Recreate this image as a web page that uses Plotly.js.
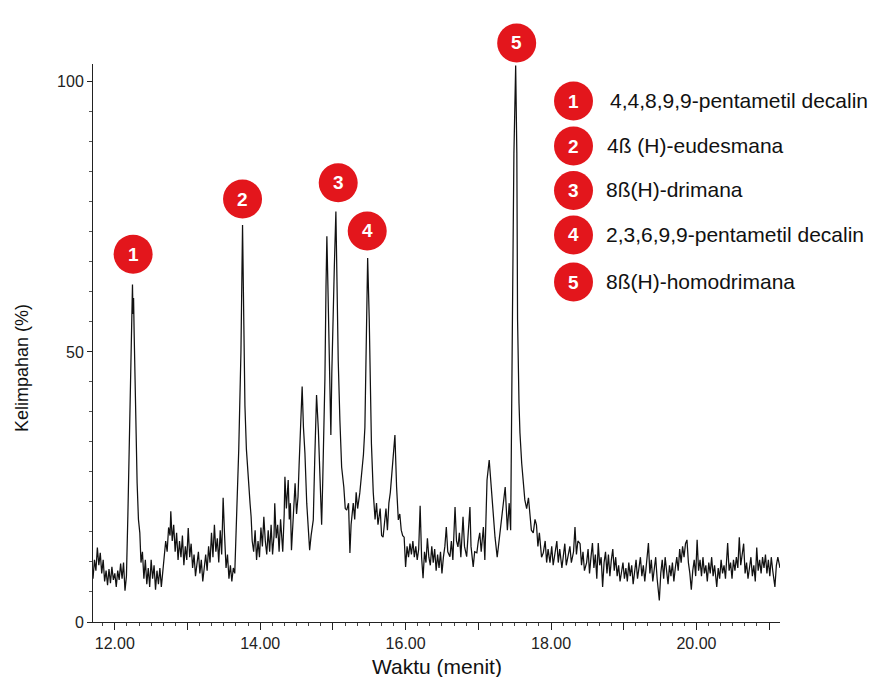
<!DOCTYPE html>
<html>
<head>
<meta charset="utf-8">
<script src="https://cdn.plot.ly/plotly-3.0.1.min.js"></script>
<style>html,body{margin:0;padding:0;background:#fff;}#chart{width:873px;height:677px;}</style>
</head>
<body>
<div id="chart"></div>
<script>
// Retention time (minutes) and relative abundance (%)
const retentionTime = [
11.70,11.72,11.74,11.76,11.78,11.80,11.82,11.84,11.86,11.88,
11.90,11.92,11.94,11.96,11.98,12.00,12.02,12.04,12.06,12.08,
12.10,12.12,12.14,12.16,12.18,12.20,12.22,12.235,12.243,12.25,
12.258,12.266,12.285,12.307,12.325,12.344,12.36,12.38,12.40,12.42,
12.44,12.46,12.48,12.50,12.52,12.54,12.56,12.58,12.60,12.62,
12.64,12.66,12.68,12.70,12.72,12.74,12.76,12.77,12.79,12.81,
12.83,12.85,12.87,12.89,12.91,12.93,12.95,12.97,12.99,13.01,
13.03,13.05,13.07,13.09,13.11,13.13,13.15,13.17,13.19,13.21,
13.23,13.25,13.27,13.29,13.31,13.33,13.35,13.37,13.39,13.41,
13.43,13.45,13.47,13.49,13.51,13.53,13.55,13.57,13.59,13.61,
13.63,13.65,13.675,13.705,13.735,13.757,13.775,13.79,13.81,13.835,
13.86,13.875,13.89,13.91,13.93,13.95,13.97,13.99,14.01,14.03,
14.05,14.07,14.09,14.11,14.13,14.15,14.17,14.19,14.20,14.22,
14.24,14.26,14.28,14.30,14.31,14.33,14.34,14.36,14.385,14.40,
14.415,14.43,14.45,14.48,14.50,14.52,14.535,14.55,14.577,14.595,
14.615,14.64,14.66,14.68,14.70,14.73,14.75,14.775,14.80,14.82,
14.845,14.86,14.876,14.89,14.905,14.917,14.93,14.95,14.972,14.985,
15.00,15.02,15.041,15.055,15.073,15.096,15.12,15.15,15.17,15.19,
15.215,15.234,15.25,15.28,15.30,15.32,15.34,15.37,15.40,15.42,
15.44,15.46,15.478,15.50,15.515,15.53,15.555,15.58,15.60,15.62,
15.65,15.67,15.69,15.71,15.73,15.75,15.77,15.79,15.82,15.84,
15.853,15.876,15.90,15.92,15.94,15.96,15.98,16.00,16.02,16.04,
16.06,16.08,16.10,16.12,16.14,16.16,16.18,16.20,16.22,16.24,
16.26,16.28,16.30,16.32,16.34,16.36,16.38,16.40,16.42,16.44,
16.46,16.48,16.50,16.52,16.54,16.56,16.58,16.61,16.63,16.65,
16.68,16.70,16.72,16.74,16.76,16.79,16.81,16.84,16.86,16.885,
16.90,16.93,16.95,16.98,17.00,17.02,17.04,17.07,17.09,17.11,
17.12,17.15,17.165,17.18,17.20,17.23,17.26,17.28,17.30,17.32,
17.34,17.37,17.40,17.425,17.445,17.46,17.47,17.49,17.514,17.53,
17.54,17.56,17.573,17.597,17.62,17.64,17.665,17.69,17.71,17.73,
17.756,17.78,17.80,17.82,17.84,17.87,17.894,17.92,17.94,17.96,
17.986,18.01,18.03,18.06,18.08,18.10,18.12,18.15,18.17,18.19,
18.21,18.24,18.26,18.28,18.31,18.33,18.35,18.37,18.40,18.42,
18.44,18.46,18.49,18.51,18.53,18.55,18.57,18.59,18.61,18.63,
18.65,18.67,18.69,18.71,18.73,18.75,18.77,18.79,18.81,18.83,
18.85,18.87,18.89,18.91,18.93,18.95,18.97,18.99,19.01,19.03,
19.05,19.07,19.09,19.11,19.13,19.15,19.17,19.19,19.21,19.23,
19.25,19.27,19.29,19.31,19.34,19.36,19.38,19.40,19.42,19.44,
19.46,19.49,19.51,19.53,19.55,19.57,19.59,19.61,19.63,19.65,
19.67,19.69,19.71,19.73,19.75,19.77,19.79,19.81,19.83,19.85,
19.87,19.89,19.91,19.93,19.95,19.97,19.99,20.01,20.03,20.05,
20.07,20.09,20.11,20.13,20.15,20.17,20.19,20.21,20.23,20.25,
20.28,20.30,20.32,20.34,20.36,20.38,20.40,20.43,20.45,20.47,
20.49,20.51,20.53,20.55,20.57,20.59,20.61,20.63,20.65,20.67,
20.69,20.71,20.73,20.75,20.77,20.79,20.81,20.83,20.85,20.87,
20.89,20.91,20.93,20.95,20.97,20.99,21.01,21.03,21.05,21.08,
21.10,21.12,21.15
];
const abundance = [
8.0,11.5,9.5,13.8,10.5,12.8,9.0,11.5,7.5,9.5,
6.8,9.8,7.2,10.2,7.8,9.0,6.5,9.5,7.8,10.8,
8.0,11.0,5.8,8.5,20,36,52,59,62.5,57,
60,53.5,38,25.7,19,16.5,11,13,8,11.5,
7,10,6.5,11.5,8,10.5,6,9.5,7,10,
6.5,9,12,15,13,17.5,16,20.5,15,18,
13,16.5,11.5,15,12,16,10.5,14,11.5,17.4,
12,14.5,10,12.5,8.5,11,13,9,11.5,7.5,
10,12.5,9.5,14,11,16.5,12,18,13,15.5,
11,17,12.5,23,16,10,12.5,8,10.5,7.5,
10,9,19.5,32,50,73.5,55,40,32,26,
22,19.5,15,13,17,11.5,15,12,17.5,14,
19.5,15,12.5,17,13,18,12.5,16,22,15.5,
18,13,19,15,13,20,26.9,21,26.3,19,
22,13.3,19,25.7,20,23.2,29,35.5,43.6,36,
31.3,22,18,13.3,16,18.9,30,42,35.5,26.9,
18,26,34.3,45,62,71.4,63,47,34.6,46,
58,66,76,62,48.5,37.4,28.7,25,21,20.7,
22,12.8,18,22,19,24,21,23.9,28,31,
36,49.8,67.4,56,42,33,24,19,22,18,
21,16,15.7,19,21,17,22,24,28.7,31,
34.6,25,18.9,20,17,16,15.7,10.2,14,12,
14.5,12.5,15,12,14,11.5,13.5,21.5,12,8.1,
13,11,15.5,12,10.5,14,11,13.5,9.5,12.5,
10,13,9,12,14,17.6,13,12.1,15,11.5,
21.3,15,13.9,16.5,12,19.5,14,12.1,16,21.3,
14,10.2,13,12.8,15,16.5,13,17.6,11.5,20,
26.3,30,27,23.9,20,15.7,12,14.5,16.5,19,
22,25,17,22,17,35,57,86.8,103,86.8,
56,40.5,35,29.4,25.7,22.6,21,23,20,17,
16.5,19,18,14,16.5,12,12.8,15,11,13.5,
11,14,10.5,13,15,11,13.5,10,12.5,14.5,
10.5,13,14,11,13,17.6,12.5,15,14.5,10.5,
13,9.5,11,13.5,9,12,14.6,10,12.5,8,
14.6,10.5,12,6.5,11,13,9,12.5,8.5,11.5,
13.5,9.5,12,8.5,10.5,7.5,9.5,11,8,10,
7.5,11,8.5,10.5,7,9.5,11.5,8,10,12,
8.5,10.5,7.5,11,14.6,9,11.5,7.5,10,12,
8,4,9,11.5,8,12,9.5,7,10.5,8.5,
11,7.5,10,12,9.5,13.5,11,14,12,14.5,
15.2,11,9,6,9.5,11.5,8.5,15.2,9.5,11.5,
8.5,12,9,10.5,7.5,11,9,12,8.5,10.5,
6.5,10,8,11.5,9,10.5,8,14.6,9.5,11,
8,11.5,9.5,12,10,15.7,10.5,12.5,14.5,9,
11,8,10.5,12,8.5,10.5,7.5,13.8,9.5,11.5,
9,12,10,12.5,9,11.5,8.5,12,9.5,6.5,
10.5,12,10
];

// Peak markers: retention time of each labelled peak and the height of its numbered badge
const peakNumbers = ['1', '2', '3', '4', '5'];
const peakTimes = [12.252, 13.757, 15.073, 15.472, 17.528];
const badgeHeights = [68.1, 78.3, 81.3, 72.4, 107.2];
const compoundNames = [
  '4,4,8,9,9-pentametil decalin',
  '4ß (H)-eudesmana',
  '8ß(H)-drimana',
  '2,3,6,9,9-pentametil decalin',
  '8ß(H)-homodrimana'
];

// x tick labels
const xTickVals = [12, 13, 14, 15, 16, 17, 18, 19, 20, 21];
const xTickText = ['12.00', '', '14.00', '', '16.00', '', '18.00', '', '20.00', ''];

// ---------- layout / styling ----------
const FONT = 'Liberation Sans, Arial, Helvetica, sans-serif';
const RED = '#e3161c';
const xRange = [11.70, 21.15];
const yRange = [0, 103.3];
const W = 873, H = 677;
const M = {l: 93, r: 93, t: 64, b: 55};
const plotW = W - M.l - M.r, plotH = H - M.t - M.b;
const px2paperX = px => (px - M.l) / plotW;
const px2paperY = py => (H - M.b - py) / plotH;
const d2paperX = t => (t - xRange[0]) / (xRange[1] - xRange[0]);
const d2paperY = v => (v - yRange[0]) / (yRange[1] - yRange[0]);

const shapes = [];
const annotations = [];
const R = 19.5;

function badge(xp, yp, label) {
  shapes.push({
    type: 'circle', xref: 'paper', yref: 'paper',
    xsizemode: 'pixel', ysizemode: 'pixel',
    xanchor: xp, yanchor: yp,
    x0: -R, x1: R, y0: -R, y1: R,
    fillcolor: RED, line: {width: 0}, layer: 'above'
  });
  annotations.push({
    xref: 'paper', yref: 'paper', x: xp, y: yp,
    text: '<b>' + label + '</b>', showarrow: false,
    xanchor: 'center', yanchor: 'middle',
    font: {family: FONT, size: 19, color: '#ffffff'}
  });
}

// badges above peaks
for (let i = 0; i < peakNumbers.length; i++) {
  badge(d2paperX(peakTimes[i]), d2paperY(badgeHeights[i]), peakNumbers[i]);
}

// key at upper right
const keyRowsPx = [101, 146, 190.5, 235, 282];
const keyTextPx = [608, 605, 604, 604, 604];
for (let i = 0; i < peakNumbers.length; i++) {
  badge(px2paperX(573.5), px2paperY(keyRowsPx[i]), peakNumbers[i]);
  annotations.push({
    xref: 'paper', yref: 'paper',
    x: px2paperX(keyTextPx[i]), y: px2paperY(keyRowsPx[i] - 1),
    text: compoundNames[i], showarrow: false,
    xanchor: 'left', yanchor: 'middle',
    font: {family: FONT, size: 21, color: '#111111'}
  });
}

// axis titles
annotations.push({
  xref: 'paper', yref: 'paper', x: px2paperX(437), y: px2paperY(666),
  text: 'Waktu (menit)', showarrow: false, xanchor: 'center', yanchor: 'middle',
  font: {family: FONT, size: 21, color: '#111111'}
});
annotations.push({
  xref: 'paper', yref: 'paper', x: px2paperX(22), y: px2paperY(368),
  text: 'Kelimpahan (%)', showarrow: false, xanchor: 'center', yanchor: 'middle',
  textangle: -90,
  font: {family: FONT, size: 18, color: '#111111'}
});

const trace = {
  x: retentionTime, y: abundance,
  type: 'scatter', mode: 'lines',
  line: {color: '#111111', width: 1.25},
  hoverinfo: 'skip'
};

const layout = {
  width: W, height: H,
  margin: M,
  paper_bgcolor: '#ffffff', plot_bgcolor: '#ffffff',
  showlegend: false,
  font: {family: FONT, color: '#111111'},
  xaxis: {
    range: xRange, showgrid: false, zeroline: false,
    showline: true, linecolor: '#222222', linewidth: 1,
    tickmode: 'array', tickvals: xTickVals, ticktext: xTickText,
    ticks: 'outside', ticklen: 7, tickwidth: 1, tickcolor: '#222222',
    tickfont: {family: FONT, size: 16, color: '#222222'},
    minor: {tickmode: 'linear', tick0: 12, dtick: 1/6, ticks: 'outside', ticklen: 3, tickcolor: '#444444', showgrid: false}
  },
  yaxis: {
    range: yRange, showgrid: false, zeroline: false,
    showline: true, linecolor: '#222222', linewidth: 1,
    tick0: 0, dtick: 50,
    ticks: 'outside', ticklen: 5, tickwidth: 1, tickcolor: '#222222',
    tickfont: {family: FONT, size: 16, color: '#222222'},
    minor: {tickmode: 'linear', tick0: 0, dtick: 50/9, ticks: 'outside', ticklen: 3, tickcolor: '#555555', showgrid: false}
  },
  shapes: shapes,
  annotations: annotations
};

Plotly.newPlot('chart', [trace], layout, {staticPlot: true, displayModeBar: false});
</script>
</body>
</html>
